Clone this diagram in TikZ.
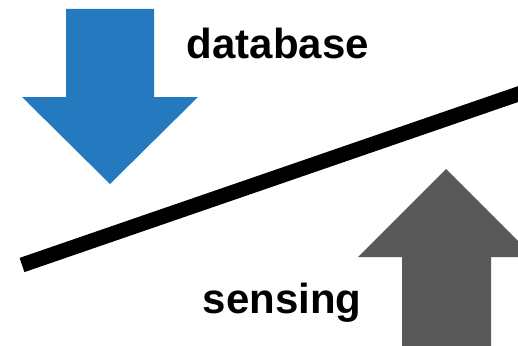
\documentclass[tikz,border=0pt]{standalone}
\usepackage{fontspec}
\setmainfont{Liberation Sans}
\definecolor{db-blue}{HTML}{2479BF}
\definecolor{sense-gray}{HTML}{595959}
\usetikzlibrary{positioning}

\begin{document}
\begin{tikzpicture}[x=1pt, y=-1pt,
  blockarrow/.style={fill=#1, draw=none},
  wordlabel/.style={font=\fontsize{42}{50}\selectfont\bfseries, inner sep=0pt, anchor=base},
  beam/.style={line width=15pt, black}]

  \useasboundingbox (0,0) rectangle (518,345);

  % incoming data from above
  \fill[blockarrow=db-blue] (66,9) -- (154,9) -- (154,97) -- (198,97)
    -- (110,184) -- (22,97) -- (66,97) -- cycle;
  \node[wordlabel] (database) at (278,59) {database};

  % the separating line
  \coordinate (beamL) at (22,265);
  \coordinate (beamR) at (530,90);
  \draw[beam] (beamL) -- (beamR);

  % measured data from below
  \fill[blockarrow=sense-gray] (402,350) -- (402,257) -- (358,257)
    -- (446,169) -- (534,257) -- (491,257) -- (491,350) -- cycle;
  \node[wordlabel] (sensing) at (282,313) {sensing};

\end{tikzpicture}
\end{document}
